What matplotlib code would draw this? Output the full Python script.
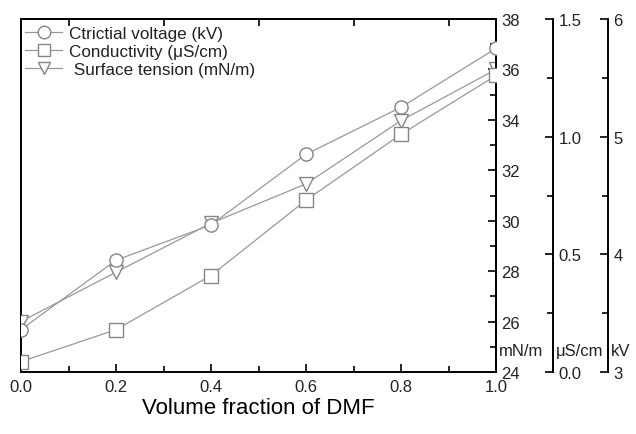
import numpy as np
import matplotlib
matplotlib.use("Agg")
import matplotlib.pyplot as plt
from matplotlib.ticker import MultipleLocator

plt.rcParams['font.family'] = ['Liberation Sans', 'DejaVu Sans']
plt.rcParams['text.color'] = '#222222'
plt.rcParams['xtick.labelcolor'] = '#222222'
plt.rcParams['ytick.labelcolor'] = '#222222'

# dados
frac = [0.0, 0.2, 0.4, 0.6, 0.8, 1.0]
voltage = [3.36, 3.95, 4.25, 4.85, 5.25, 5.75]        # kV
conductivity = [0.044, 0.18, 0.41, 0.73, 1.01, 1.26]  # uS/cm
tension = [26.0, 27.96, 29.9, 31.46, 33.97, 36.0]     # mN/m

grey = '#999999'
mk = dict(color=grey, lw=0.9, markersize=9.5, markerfacecolor='white',
          markeredgecolor='#858585', markeredgewidth=1.0)

fig = plt.figure(figsize=(6.36, 4.35), dpi=100)
ax = fig.add_axes([21/636, 1 - 373/435, 475/636, 353/435])

ax_t = ax.twinx()   # mN/m
ax_c = ax.twinx()   # uS/cm
ax_v = ax.twinx()   # kV
off_c = 1 + 57/475
off_v = 1 + 112/475
ax_c.spines['right'].set_position(('axes', off_c))
ax_v.spines['right'].set_position(('axes', off_v))

lv, = ax_v.plot(frac, voltage, marker='o', **mk)
lc, = ax_c.plot(frac, conductivity, marker='s', **mk)
lt, = ax_t.plot(frac, tension, marker='v', **mk)

ax.set_xlim(0, 1)
ax.set_ylim(0, 1)
ax.set_yticks([])
ax.xaxis.set_major_locator(MultipleLocator(0.2))
ax.xaxis.set_minor_locator(MultipleLocator(0.1))
ax.tick_params(axis='x', which='both', direction='in', labelsize=12,
               top=False, pad=5)
ax.tick_params(axis='x', which='major', length=6, width=1.2)
ax.tick_params(axis='x', which='minor', length=4, width=1.2)
ax.set_xticklabels(['%.1f' % v for v in ax.get_xticks()])
ax.set_xlabel('Volume fraction of DMF', fontsize=16, labelpad=2)

# ticks no topo (posicoes impares)
sec = ax.secondary_xaxis('top')
sec.set_xticks([0.1, 0.3, 0.5, 0.7, 0.9])
sec.tick_params(direction='in', length=5, width=1.2, labeltop=False)
sec.spines['top'].set_linewidth(1.4)

for s in ax.spines.values():
    s.set_linewidth(1.4)

ax_t.set_ylim(24, 38)
ax_t.yaxis.set_major_locator(MultipleLocator(2))
ax_t.yaxis.set_minor_locator(MultipleLocator(1))

ax_c.set_ylim(0, 1.5)
ax_c.yaxis.set_major_locator(MultipleLocator(0.5))
ax_c.yaxis.set_minor_locator(MultipleLocator(0.25))
ax_c.yaxis.set_major_formatter(plt.FormatStrFormatter('%.1f'))

ax_v.set_ylim(3, 6)
ax_v.yaxis.set_major_locator(MultipleLocator(1))
ax_v.yaxis.set_minor_locator(MultipleLocator(0.5))

for a in (ax_t, ax_c, ax_v):
    a.spines['right'].set_linewidth(1.4)
    for side in ('top', 'left', 'bottom'):
        a.spines[side].set_visible(False)
    a.tick_params(axis='y', which='both', direction='in', width=1.2,
                  labelsize=12, pad=4)
    a.tick_params(axis='y', which='major', length=6)
    a.tick_params(axis='y', which='minor', length=4)

# unidades junto aos eixos
for xpos, unit in ((1.0, 'mN/m'), (off_c, '\u03bcS/cm'), (off_v, 'kV')):
    ax.text(xpos + 3/475, 0.06, unit, transform=ax.transAxes,
            fontsize=12, ha='left', va='center', clip_on=False)

leg = ax_t.legend([lv, lc, lt],
                  ['Ctrictial voltage (kV)', 'Conductivity (\u03bcS/cm)',
                   ' Surface tension (mN/m)'],
                  loc='upper left', bbox_to_anchor=(2/475, 1 - 5/353),
                  frameon=False, fontsize=12.3,
                  handlelength=2.2, handletextpad=0.4, labelspacing=0.18,
                  borderaxespad=0, borderpad=0.1, markerscale=0.95)

fig.savefig('out.png', dpi=100)
